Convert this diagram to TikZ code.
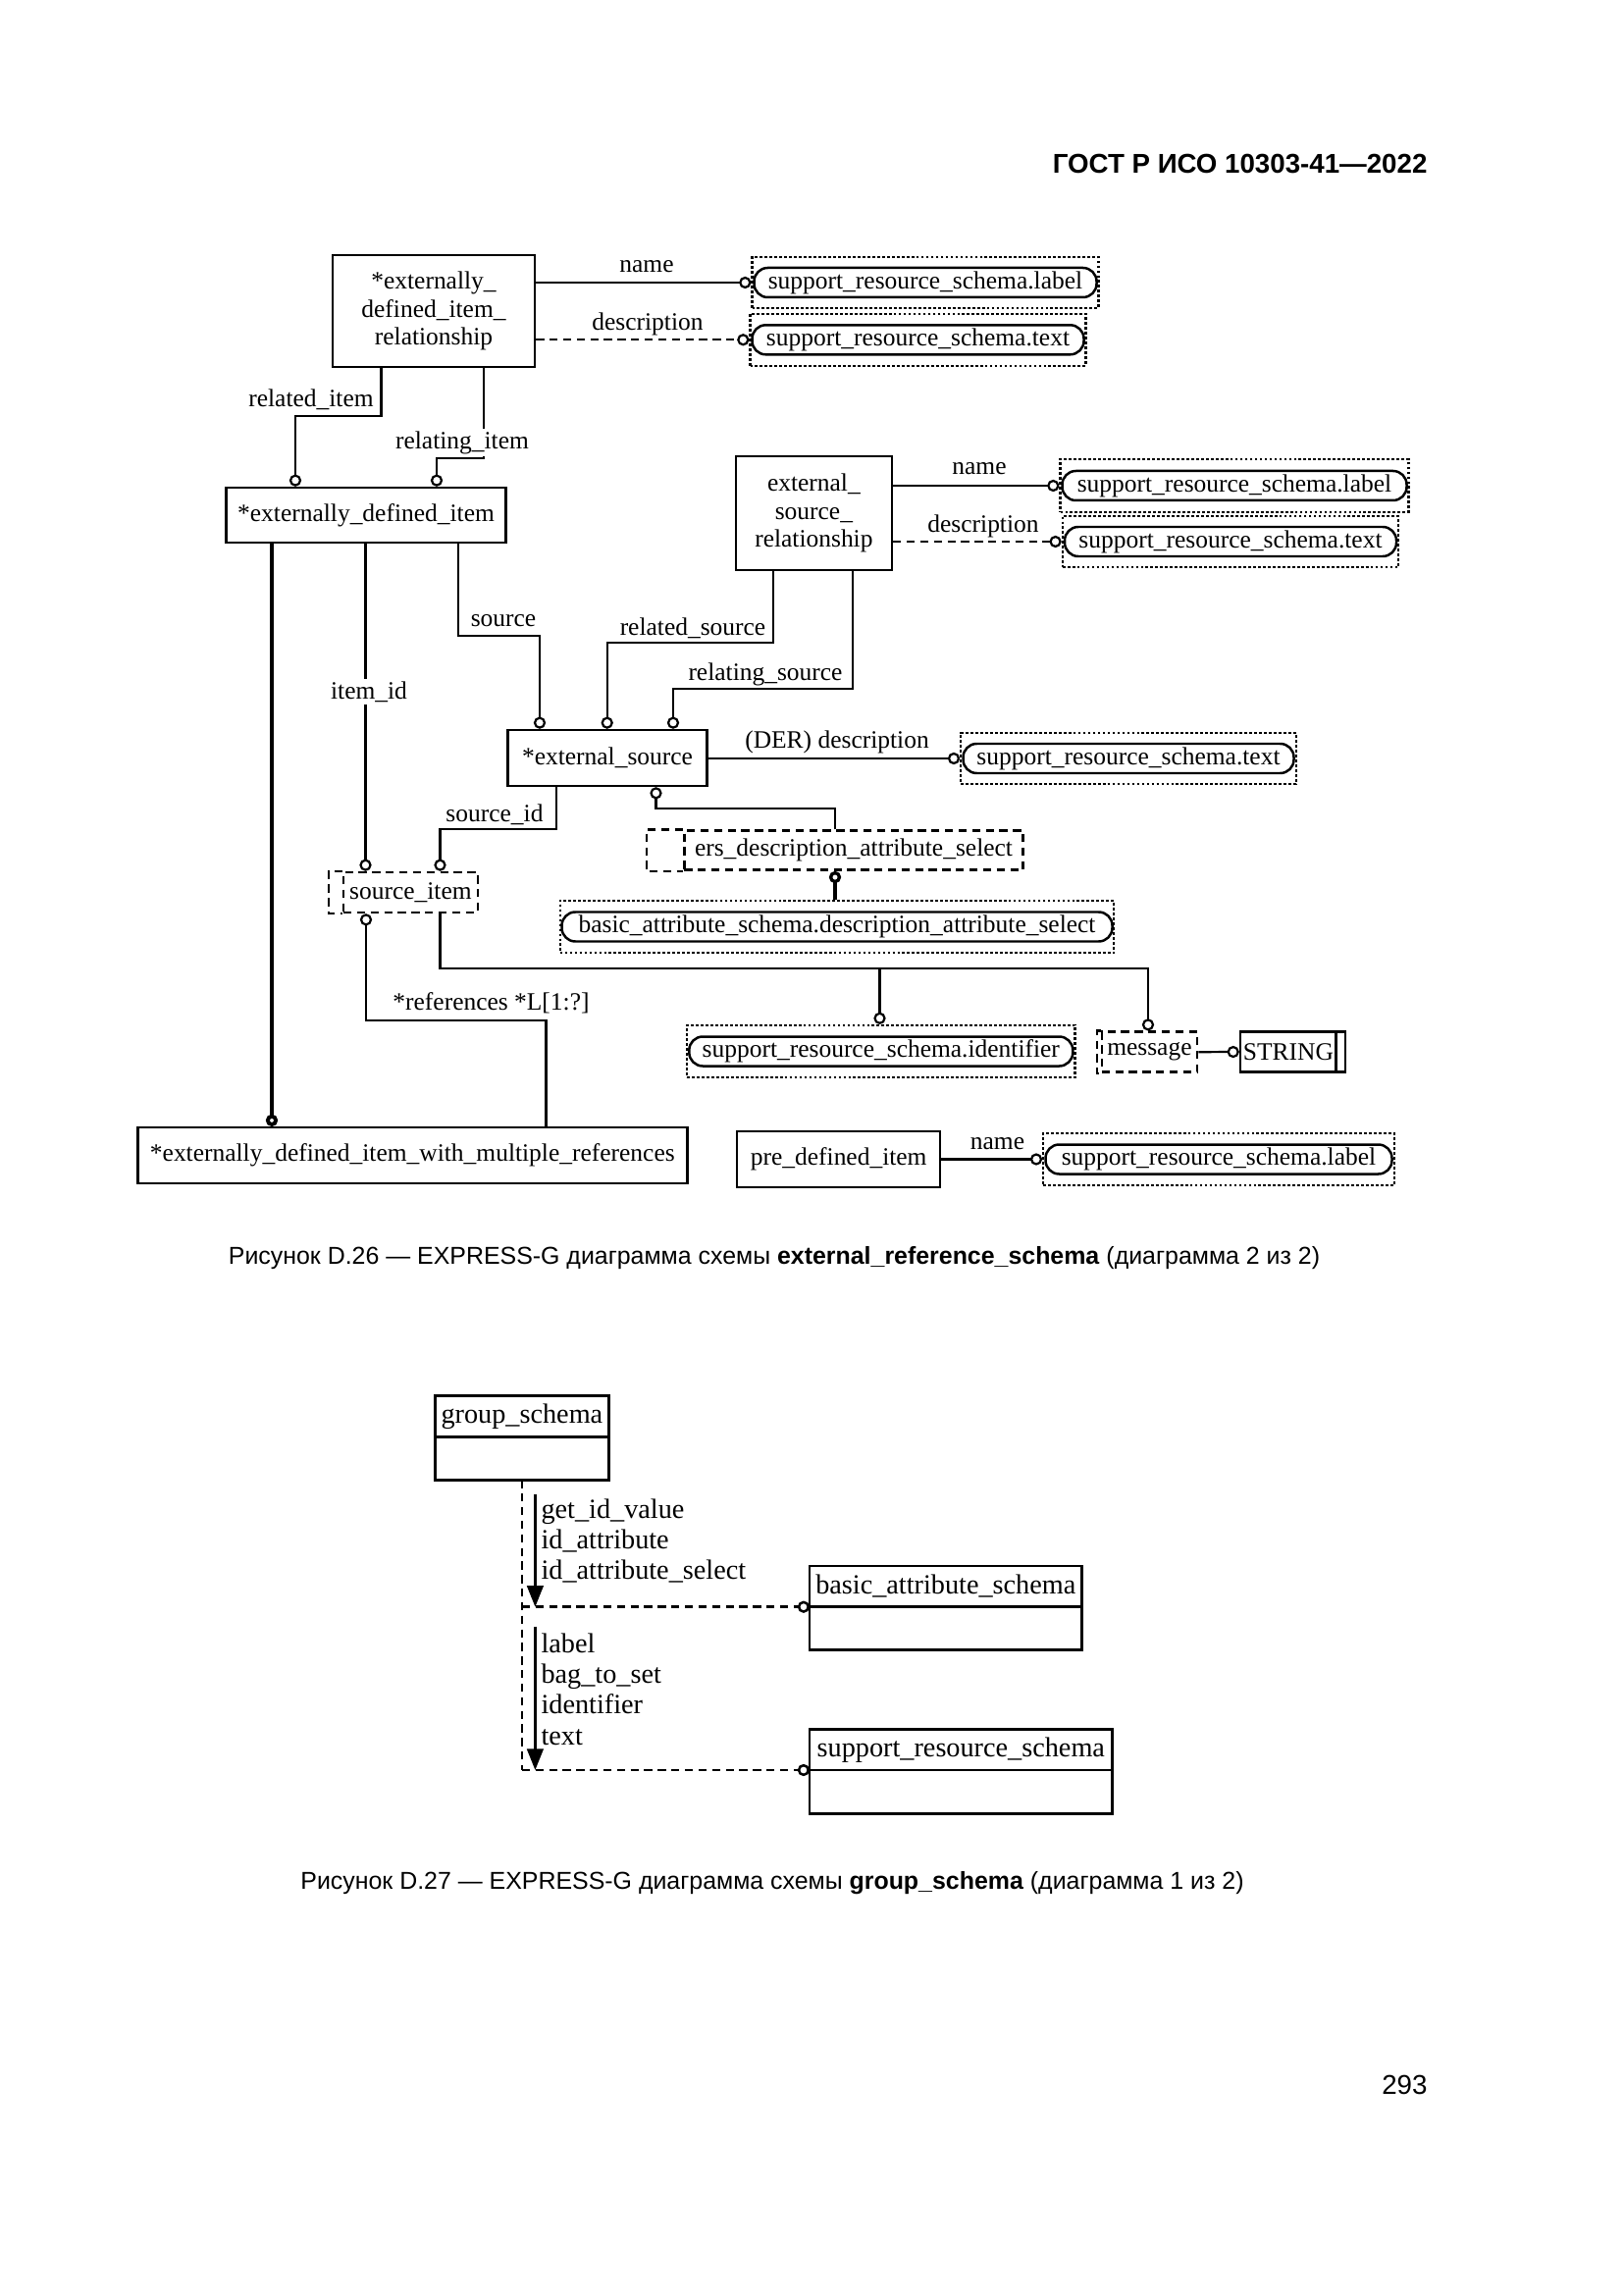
\documentclass[tikz,border=0pt]{standalone}
\usepackage{fontspec}
\setmainfont{Liberation Serif}
\newfontfamily\capfont{Liberation Sans}
\usetikzlibrary{arrows.meta,positioning}
\newdimen\pxu
\pxu=0.012697cm

\begin{document}
\begin{tikzpicture}[
            x = 0.012697cm, y = -0.012697cm, % one unit = one pixel of the page
            font = \fontsize{9.2}{10.3}\selectfont,
            ent/.style = {draw, line width=0.9pt, align=center, inner sep=0pt},
            attr/.style = {draw, line width=0.9pt, rounded corners=5pt, inner sep=0pt, minimum height=30\pxu},
            dotbox/.style = {draw, line width=0.8pt, dash pattern=on 1pt off 0.8pt, inner sep=0pt, minimum height=53\pxu},
            sel/.style = {draw, line width=0.9pt, dash pattern=on 3pt off 2pt, inner sep=0pt},
            rel/.style = {line width=0.8pt, -{Circle[open, length=4.4pt]}},
            sub/.style = {line width=1.4pt, -{Circle[open, length=4.4pt]}},
            opt/.style = {dash pattern=on 3pt off 2pt},
            lbl/.style = {inner sep=1pt, fill=white},
            sch/.style = {draw, line width=0.9pt, inner sep=0pt, outer sep=0pt, font=\fontsize{10.2}{11.34}\selectfont},
            imp/.style = {line width=0.9pt, -{Triangle[length=7.8pt, width=6pt]}},
            captext/.style = {inner sep=0pt, font=\capfont\fontsize{9}{11}\selectfont}
        ]
\useasboundingbox (0,0) rectangle (1654,2339);

\node[anchor=east, inner sep=0pt, font=\capfont\bfseries\fontsize{10}{12}\selectfont] (head) at (1455,167) {ГОСТ Р ИСО 10303-41—2022};

% entities
\node[ent, minimum width=206\pxu, minimum height=114\pxu] (EDIR) at (442,317) {*externally\_\\defined\_item\_\\relationship};
\node[ent, minimum width=285\pxu, minimum height=56\pxu] (EDI) at (373,525) {*externally\_defined\_item};
\node[ent, minimum width=159\pxu, minimum height=116\pxu] (ESR) at (829.4,523) {external\_\\source\_\\relationship};
\node[ent, minimum width=203\pxu, minimum height=57\pxu] (ES) at (619,772.5) {*external\_source};
\node[ent, minimum width=560\pxu, minimum height=57\pxu] (EDIM) at (420.3,1177.7) {*externally\_defined\_item\_with\_multiple\_references};
\node[ent, minimum width=207\pxu, minimum height=57\pxu] (PDI) at (854.7,1181.7) {pre\_defined\_item};

% referenced types
\node[dotbox, minimum width=353\pxu, minimum height=52\pxu] (LAB1) at (943,288) {};
\node[attr, minimum width=349\pxu] (lab1) at (LAB1) {support\_resource\_schema.label};
\node[dotbox, minimum width=342\pxu] (TXT1) at (935.5,346.3) {};
\node[attr, minimum width=338\pxu] (txt1) at (TXT1) {support\_resource\_schema.text};
\node[dotbox, minimum width=355\pxu, minimum height=54\pxu] (LAB2) at (1258,495) {};
\node[attr, minimum width=351\pxu] (lab2) at (LAB2) {support\_resource\_schema.label};
\node[dotbox, minimum width=342.5\pxu, minimum height=52\pxu] (TXT2) at (1254,552) {};
\node[attr, minimum width=338\pxu] (txt2) at (TXT2) {support\_resource\_schema.text};
\node[dotbox, minimum width=341.6\pxu, minimum height=52\pxu] (TXT3) at (1150,773) {};
\node[attr, minimum width=337\pxu] (txt3) at (TXT3) {support\_resource\_schema.text};
\node[dotbox, minimum width=564.7\pxu] (BADS) at (853,944.5) {};
\node[attr, minimum width=561\pxu] (bads) at (BADS) {basic\_attribute\_schema.description\_attribute\_select};
\node[dotbox, minimum width=395.5\pxu] (IDF) at (897.8,1071.5) {};
\node[attr, minimum width=391\pxu] (idf) at (IDF) {support\_resource\_schema.identifier};
\node[dotbox, minimum width=357.6\pxu] (LAB3) at (1242,1181.5) {};
\node[attr, minimum width=353\pxu] (lab3) at (LAB3) {support\_resource\_schema.label};

% select and simple types
\node[sel, minimum width=345.4\pxu, minimum height=40\pxu] (ERS) at (870,866.7) {ers\_description\_attribute\_select};
\draw[sel] (ERS.north west) -- ++(-37.3,0) |- (ERS.south west);
\node[sel, minimum width=136.7\pxu, minimum height=41\pxu] (SI) at (418.4,909.5) {source\_item};
\draw[sel] (SI.north west) -- ++(-14,0) |- (SI.south west);
\node[sel, minimum width=97.3\pxu, minimum height=41\pxu] (MSG) at (1171.4,1072.2) {message};
\draw[sel] (MSG.north west) -- ++(-3.7,0) |- (MSG.south west);
\node[ent, minimum width=106.7\pxu, minimum height=40.6\pxu] (STR) at (1317.4,1072) {STRING\hspace{9\pxu}};
\draw[line width=0.9pt] (1361.7,0 |- STR.north) -- (1361.7,0 |- STR.south);

% relationships
\draw[rel] (LAB1.west -| EDIR.east) -- (LAB1.west);
\draw[rel, opt] (TXT1.west -| EDIR.east) -- (TXT1.west);
\draw[rel] (388.6,0 |- EDIR.south) |- (301,424) -- (301,0 |- EDI.north);
\draw[rel] (492.7,0 |- EDIR.south) |- (445,467) -- (445,0 |- EDI.north);
\draw[sub] (277,0 |- EDI.south) -- (277,0 |- EDIM.north);
\draw[rel] (372.5,0 |- EDI.south) -- (372.5,0 |- SI.north);
\draw[rel] (467,0 |- EDI.south) |- (550,648) -- (550,0 |- ES.north);
\draw[rel] (788,0 |- ESR.south) |- (618.7,655) -- (618.7,0 |- ES.north);
\draw[rel] (869,0 |- ESR.south) |- (686,702) -- (686,0 |- ES.north);
\draw[rel] (LAB2.west -| ESR.east) -- (LAB2.west);
\draw[rel, opt] (TXT2.west -| ESR.east) -- (TXT2.west);
\draw[rel] (TXT3.west -| ES.east) -- (TXT3.west);
\draw[rel] (851,0 |- ERS.north) |- (668.5,824) -- (668.5,0 |- ES.south);
\draw[rel] (567,0 |- ES.south) |- (448.5,845) -- (448.5,0 |- SI.north);
\draw[sub, line width=1.2pt] (851,0 |- BADS.north) -- (851,0 |- ERS.south);
\draw[rel] (556.5,0 |- EDIM.north) |- (373,1040) -- (373,0 |- SI.south);
\draw[rel] (448.5,0 |- SI.south) |- (1170,987) -- (1170,0 |- MSG.north);
\coordinate (br) at (896.5,987);
\draw[rel] (br) -- (br |- IDF.north);
\draw[rel] (MSG.east) -- (STR.west);
\draw[rel] (LAB3.west -| PDI.east) -- (LAB3.west);

% attribute names
\node[lbl] (n1) at (659,272) {name};
\node[lbl] (d1) at (660,330) {description};
\node[lbl] (ri) at (317,407) {related\_item};
\node[lbl] (rgi) at (471,451) {relating\_item};
\node[lbl] (n2) at (998,478) {name};
\node[lbl] (d2) at (1002,536) {description};
\node[lbl] (src) at (513,633) {source};
\node[lbl] (rs) at (706,640) {related\_source};
\node[lbl] (rgs) at (780,687) {relating\_source};
\node[lbl] (iid) at (376,705) {item\_id};
\node[lbl] (der) at (853,756) {(DER) description};
\node[lbl] (sid) at (504,830) {source\_id};
\node[lbl] (refs) at (500.5,1022) {*references *L[1:?]};
\node[lbl] (n3) at (1016.5,1166) {name};

\node[captext] (cap1) at (789,1281.7) {Рисунок D.26 — EXPRESS-G диаграмма схемы \textbf{external\_reference\_schema} (диаграмма 2 из 2)};

% schema diagram
\node[sch, minimum width=177\pxu, minimum height=41.6\pxu] (GS) at (531.9,1443.5) {group\_schema};
\node[sch, minimum width=177\pxu, minimum height=44\pxu, below=0pt of GS] (GSb) {};
\node[sch, minimum width=277.6\pxu, minimum height=41.7\pxu] (BAS) at (963.8,1616.85) {basic\_attribute\_schema};
\node[sch, minimum width=277.6\pxu, minimum height=44\pxu, below=0pt of BAS] (BASb) {};
\node[sch, minimum width=308.7\pxu, minimum height=41.3\pxu] (SRS) at (979.35,1783.35) {support\_resource\_schema};
\node[sch, minimum width=308.7\pxu, minimum height=44.3\pxu, below=0pt of SRS] (SRSb) {};

\draw[line width=0.9pt, opt] (GSb.south) -- (GSb.south |- SRS.south west);
\draw[rel, line width=0.9pt, opt] (GSb.south |- BAS.south west) -- (BAS.south west);
\draw[rel, line width=0.9pt, opt] (GSb.south |- SRS.south west) -- (SRS.south west);
\coordinate (ia) at (545.4,1522.7);
\coordinate (ib) at (545.4,1657.7);
\draw[imp] (ia) -- (ia |- BAS.south west);
\draw[imp] (ib) -- (ib |- SRS.south west);
\node[anchor=west, align=left, inner sep=0pt, font=\fontsize{10.2}{11.34}\selectfont] (imp1) at (551,1570.5) {get\_id\_value\\id\_attribute\\id\_attribute\_select};
\node[anchor=west, align=left, inner sep=0pt, font=\fontsize{10.2}{11.34}\selectfont] (imp2) at (551,1721.5) {label\\bag\_to\_set\\identifier\\text};

\node[captext] (cap2) at (787,1919) {Рисунок D.27 — EXPRESS-G диаграмма схемы \textbf{group\_schema} (диаграмма 1 из 2)};

\node[captext, anchor=east, font=\capfont\fontsize{10}{12}\selectfont] (pg) at (1455,2125) {293};
\end{tikzpicture}
\end{document}
